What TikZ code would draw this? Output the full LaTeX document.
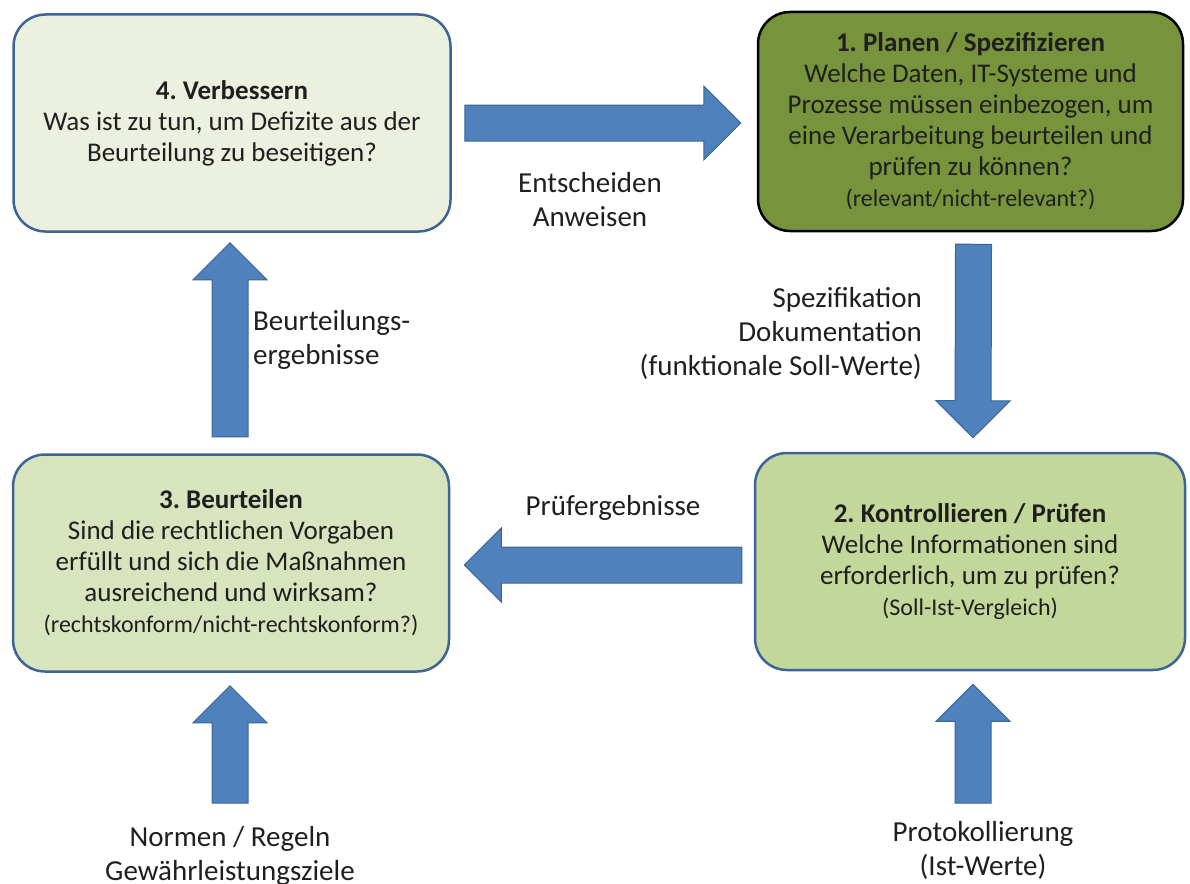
\documentclass[tikz,border=0pt]{standalone}
\usepackage{fontspec}
\setmainfont{Carlito}
\usetikzlibrary{calc,positioning}
\frenchspacing

\definecolor{boxblue}{HTML}{3C6496}
\definecolor{arrowblue}{HTML}{4F81BD}
\definecolor{arrowline}{HTML}{3A6595}
\definecolor{verbfill}{HTML}{EBF1DE}
\definecolor{planfill}{HTML}{77933C}
\definecolor{beurtfill}{HTML}{D7E4BD}
\definecolor{pruefill}{HTML}{C4D79B}
\definecolor{textgray}{HTML}{1F1F1F}

\newcommand{\blockpfeil}[2]{%
  \path ($(#2)!37pt!(#1)$) coordinate (head);
  \filldraw[blockarrow] ($(#1)!18pt!90:(#2)$) -- ($(head)!18pt!90:(#2)$) -- ($(head)!37pt!90:(#2)$) -- (#2)
    -- ($(head)!37pt!-90:(#2)$) -- ($(head)!18pt!-90:(#2)$) -- ($(#1)!18pt!-90:(#2)$) -- cycle;}

\begin{document}
\begin{tikzpicture}[x=1pt,y=-1pt,
    phasebox/.style={draw=boxblue,line width=2.5pt,rounded corners=32pt,minimum height=217pt,
      align=center,font=\fontsize{27}{31}\selectfont,text=textgray,inner sep=0pt},
    notiz/.style={font=\fontsize{29}{34}\selectfont,text=textgray,inner sep=0pt,align=center},
    blockarrow/.style={fill=arrowblue,draw=arrowline,line width=1pt,line join=miter}]
\useasboundingbox (0,0) rectangle (1190,883);

\node[phasebox,fill=verbfill,minimum width=437pt] (verb) at (232,123)
  {\textbf{4. Verbessern}\\Was ist zu tun, um Defizite aus der\\Beurteilung zu beseitigen?};
\node[phasebox,fill=planfill,draw=black,minimum width=425pt,minimum height=219pt] (plan) at (970.5,121.5)
  {\textbf{1. Planen / Spezifizieren}\\Welche Daten, IT-Systeme und\\Prozesse müssen einbezogen, um\\eine Verarbeitung beurteilen und\\prüfen zu können?\\{\fontsize{24}{31}\selectfont (relevant/nicht-relevant?)}};
\node[phasebox,fill=beurtfill,minimum width=436pt] (beurt) at (231,563)
  {\textbf{3. Beurteilen}\\Sind die rechtlichen Vorgaben\\erfüllt und sich die Maßnahmen\\ausreichend und wirksam?\\{\fontsize{24}{31}\selectfont (rechtskonform/nicht-rechtskonform?)}};
\node[phasebox,fill=pruefill,minimum width=430pt] (pruef) at (970,561.5)
  {\textbf{2. Kontrollieren / Prüfen}\\Welche Informationen sind\\erforderlich, um zu prüfen?\\{\fontsize{24}{31}\selectfont (Soll-Ist-Vergleich)}};

\coordinate (e1) at ([xshift=13pt]verb.east);
\coordinate (e2) at ($(plan.west |- e1)+(-16,0)$);
\coordinate (s1) at ($(plan.south)+(3,12)$);
\coordinate (s2) at ($(pruef.north)+(3,-14)$);
\coordinate (p1) at ($(pruef.west)+(-12,3.5)$);
\coordinate (p2) at ($(beurt.east |- p1)+(14,0)$);
\coordinate (b1) at ($(beurt.north)+(-1,-16.5)$);
\coordinate (b2) at ($(verb.south)+(-2,10)$);
\coordinate (n1) at (230,803);
\coordinate (n2) at ($(beurt.south)+(-1,13)$);
\coordinate (q1) at (973,803);
\coordinate (q2) at ($(pruef.south)+(3,13)$);

\blockpfeil{e1}{e2}
\blockpfeil{s1}{s2}
\blockpfeil{p1}{p2}
\blockpfeil{b1}{b2}
\blockpfeil{n1}{n2}
\blockpfeil{q1}{q2}

\node[notiz] (entsch) at (590,200) {Entscheiden\\Anweisen};
\node[notiz,align=right,anchor=east] (spez) at (922,333) {Spezifikation\\Dokumentation\\(funktionale Soll-Werte)};
\node[notiz,align=left,anchor=west] (ergeb) at (253,340) {Beurteilungs-\\ergebnisse};
\node[notiz] (pergeb) at (613,508) {Prüfergebnisse};
\node[notiz,below=23pt of n1] (normen) {Normen / Regeln\\Gewährleistungsziele};
\node[notiz,below=18pt of q1,xshift=10pt] (protok) {Protokollierung\\(Ist-Werte)};
\end{tikzpicture}
\end{document}
